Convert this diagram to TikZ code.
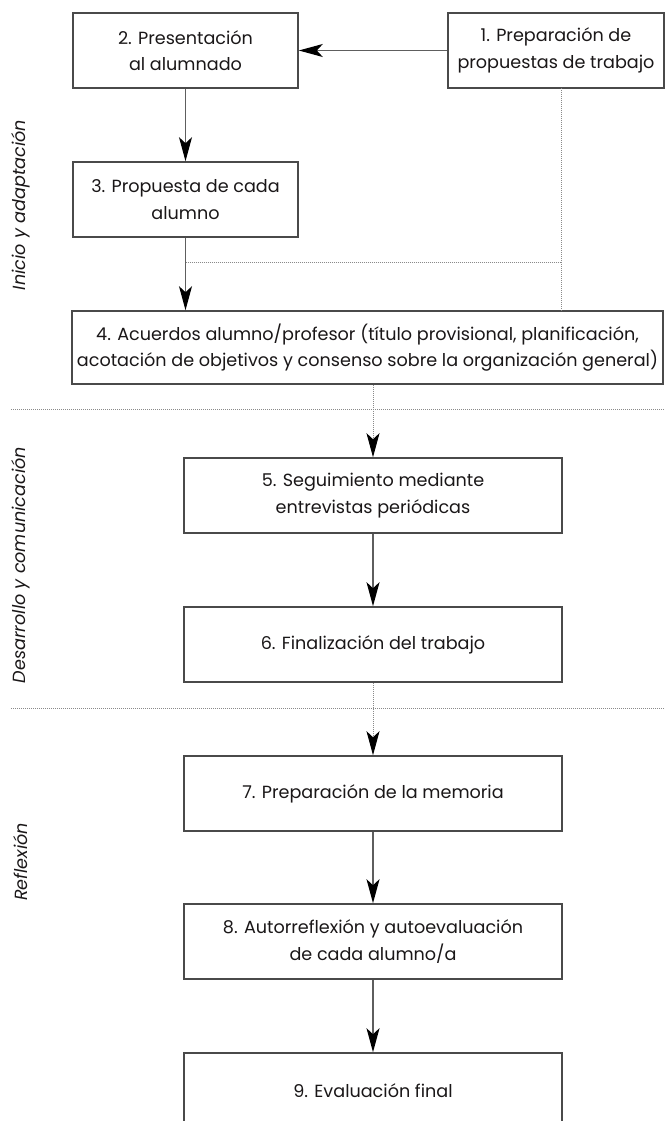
\documentclass[tikz,border=0pt]{standalone}
\usepackage{fontspec}
\setmainfont{Poppins}
\usetikzlibrary{arrows.meta}
\definecolor{boxgray}{HTML}{4A4A4A}
\definecolor{linegray}{HTML}{5E5E5E}
\definecolor{dotgray}{HTML}{8A8A8A}
\definecolor{txt}{HTML}{1A1718}
\begin{document}
\begin{tikzpicture}[x=1pt,y=-1pt,
  box/.style={draw=boxgray, line width=1.6pt, fill=white, text=txt, align=center,
    inner sep=0pt, font=\fontsize{17.6}{26.5}\selectfont},
  lab/.style={text=txt, rotate=90, inner sep=0pt, font=\fontsize{17.6}{20}\selectfont\itshape},
  tip/.style={-{Stealth[length=24pt,width=13pt,inset=6pt,black]}},
  arr/.style={draw=linegray, line width=1.3pt, tip},
  dotline/.style={draw=dotgray, line width=0.9pt, dash pattern=on 1pt off 1pt},
  darr/.style={dotline, tip}]
\useasboundingbox (0,0) rectangle (665,1121);
\clip (0,0) rectangle (665,1121);
% boxes
\node[box, minimum width=225, minimum height=75] (b2) at (185.5,50.5) {2. Presentación\\al alumnado};
\node[box, minimum width=216, minimum height=75] (b1) at (556,50.5) {1. Preparación de\\propuestas de trabajo};
\node[box, minimum width=225, minimum height=75] (b3) at (185.5,199.5) {3. Propuesta de cada\\alumno};
\node[box, minimum width=591, minimum height=73] (b4) at (367.5,347.5) {4. Acuerdos alumno/profesor (título provisional, planificación,\\acotación de objetivos y consenso sobre la organización general)};
\node[box, minimum width=378, minimum height=75] (b5) at (373,495.5) {5. Seguimiento mediante\\entrevistas periódicas};
\node[box, minimum width=378, minimum height=75] (b6) at (373,644.5) {6. Finalización del trabajo};
\node[box, minimum width=378, minimum height=75] (b7) at (373,793.5) {7. Preparación de la memoria};
\node[box, minimum width=378, minimum height=75] (b8) at (373,941.5) {8. Autorreflexión y autoevaluación\\de cada alumno/a};
\node[box, minimum width=378, minimum height=75] (b9) at (373,1090.5) {9. Evaluación final};
% side labels
\node[lab] (l1) at (21,205) {Inicio y adaptación};
\node[lab] (l2) at (21,565) {Desarrollo y comunicación};
\node[lab] (l3) at (21,862) {Reflexión};
% coordinates
\coordinate (d1) at (561,88);
\coordinate (j1) at (185.5,262);
\coordinate (s1l) at (11,409);
\coordinate (s1r) at (665,409);
\coordinate (s2l) at (11,708);
\coordinate (s2r) at (665,708);
% connectors
\draw[arr] (b1.west) -- (b2.east);
\draw[arr] (b2.south) -- (b3.north);
\draw[arr] (b3.south) -- (b3.south |- b4.north);
\draw[dotline] (d1) -- (d1 |- b4.north);
\draw[dotline] (j1) -- (j1 -| d1);
\draw[dotline] (s1l) -- (s1r);
\draw[dotline] (s2l) -- (s2r);
\draw[darr] (b5.north |- b4.south) -- (b5.north);
\draw[arr] (b5.south) -- (b6.north);
\draw[darr] (b7.north |- b6.south) -- (b7.north);
\draw[arr] (b7.south) -- (b8.north);
\draw[arr] (b8.south) -- (b9.north);
\end{tikzpicture}
\end{document}
